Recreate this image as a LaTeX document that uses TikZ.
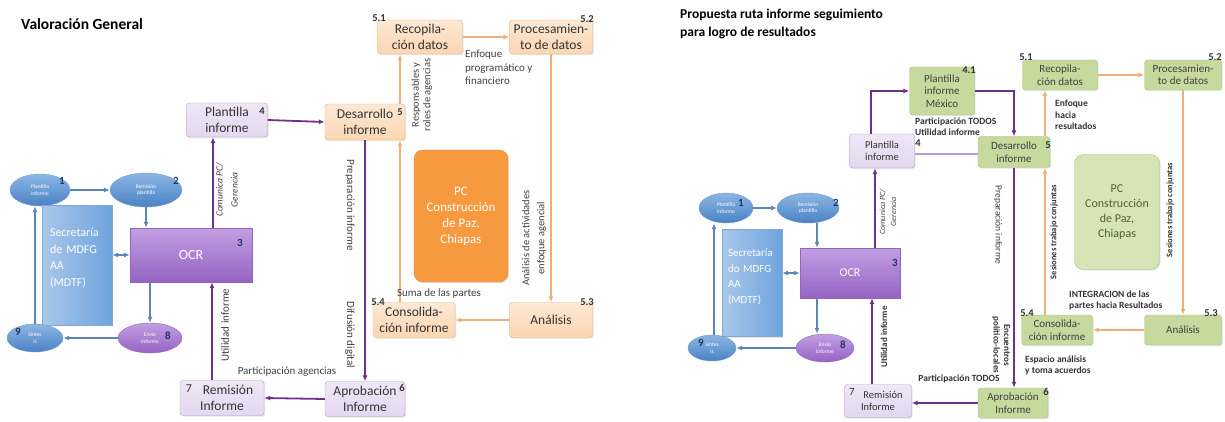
\documentclass[tikz,border=0pt]{standalone}
\usepackage{fontspec}
\setmainfont{Carlito}
\usepackage{xcolor}
\usetikzlibrary{arrows.meta, shapes.geometric, shadows}
\definecolor{linepurple}{HTML}{722F8A}
\definecolor{lineorange}{HTML}{F2AE78}
\definecolor{lineblue}{HTML}{5B86BA}
\definecolor{lilac}{HTML}{E4D7F0}
\definecolor{lilacedge}{HTML}{B49BD0}
\definecolor{peach}{HTML}{FBD6B2}
\definecolor{peachedge}{HTML}{F0B07C}
\definecolor{pcorange}{HTML}{F7993F}
\definecolor{leaf}{HTML}{C6DA9E}
\definecolor{leafedge}{HTML}{A6C277}
\definecolor{leafpale}{HTML}{D5E5B6}
\definecolor{leaftext}{HTML}{4F6228}
\definecolor{skyblue}{HTML}{6FA3DD}
\definecolor{deepblue}{HTML}{4A82C4}
\definecolor{ocrtop}{HTML}{C29FE2}
\definecolor{ocrbottom}{HTML}{9563C4}
\definecolor{navy}{HTML}{1F3864}

\begin{document}
\begin{tikzpicture}[x=1pt, y=-1pt, >={Latex[length=6pt,width=5pt]},
    every node/.style={font=\fontsize{13.5}{15.5}\selectfont, align=center, inner sep=1pt},
    soft/.style={drop shadow={opacity=0.2, shadow xshift=1.2pt, shadow yshift=-1.2pt}},
    lbox/.style={soft, draw=lilacedge, rounded corners=3pt, top color=lilac!60, bottom color=lilac, text=black!80},
    obox/.style={soft, draw=peachedge, rounded corners=3pt, top color=peach!55, bottom color=peach, text=black!80},
    gbox/.style={soft, draw=leafedge, rounded corners=3pt, fill=leaf, text=black!75, font=\fontsize{11}{12.5}\selectfont},
    oval/.style={ellipse, draw=deepblue!80, top color=skyblue!80, bottom color=deepblue, text=white, inner sep=0pt, font=\fontsize{5.5}{6.5}\selectfont},
    pval/.style={ellipse, draw=ocrbottom, top color=ocrtop, bottom color=ocrbottom, text=white, inner sep=0pt, font=\fontsize{5.5}{6.5}\selectfont},
    num/.style={font=\bfseries\fontsize{10.5}{11}\selectfont, text=black!80},
    bnum/.style={font=\bfseries\fontsize{11}{12}\selectfont, text=navy},
    lab/.style={font=\fontsize{11}{12.5}\selectfont, text=black!75},
    blab/.style={font=\bfseries\fontsize{9.5}{10.5}\selectfont, text=black!80, align=left},
    pline/.style={linepurple, line width=1.8pt, ->},
    oline/.style={lineorange, line width=1.8pt, ->},
    bline/.style={lineblue, line width=1.3pt, ->}]
    \useasboundingbox (0,0) rectangle (1225,422);
    %
    % Valoracion General
    \node[anchor=west, font=\bfseries\fontsize{15.5}{17}\selectfont] (title1) at (20,24) {Valoración General};
    \node[oval, minimum width=60pt, minimum height=32pt] (e1) at (40,190) {Plantilla\\informe};
    \node[oval, minimum width=72pt, minimum height=34pt] (e2) at (146,190) {Remisión\\plantilla};
    \node[soft, draw=deepblue!70, left color=skyblue!60, right color=skyblue, minimum width=70pt, minimum height=120pt] (sec) at (77,265) {};
    \node[text=white, align=left, text width=60pt, font=\fontsize{12}{16.5}\selectfont] (sectxt) at (80,258) {Secretaría\\de MDFG\\AA\\(MDTF)};
    \node[soft, draw=ocrbottom, top color=ocrtop, bottom color=ocrbottom, text=white, minimum width=122pt, minimum height=54pt, font=\fontsize{14}{15}\selectfont] (ocr) at (191,255) {OCR};
    \node[pval, minimum width=64pt, minimum height=30pt] (e8) at (150,338) {Envío\\informe};
    \node[oval, minimum width=56pt, minimum height=28pt] (e9) at (35,338) {Síntes\\is};
    \node[bnum] (n1) at (62,181) {1};
    \node[bnum] (n2) at (176,181) {2};
    \node[bnum] (n3) at (240,243) {3};
    \node[bnum] (n8) at (168,336) {8};
    \node[bnum] (n9) at (18,332) {9};
    %
    \node[lbox, minimum width=81pt, minimum height=34pt] (p4) at (227,120) {Plantilla\\informe};
    \node[obox, minimum width=80pt, minimum height=36pt] (d5) at (365,122) {Desarrollo\\informe};
    \node[obox, minimum width=85pt, minimum height=34pt] (r51) at (420,37) {Recopila-\\ción datos};
    \node[obox, minimum width=83pt, minimum height=34pt] (r52) at (551,37) {Procesamien-\\to de datos};
    \node[soft, draw=pcorange!90!black, fill=pcorange, rounded corners=9pt, text=white, minimum width=94pt, minimum height=132pt, font=\fontsize{13}{16}\selectfont] (pc) at (461,216) {PC\\Construcción\\de Paz,\\Chiapas};
    \node[obox, minimum width=83pt, minimum height=35pt] (a53) at (551,320) {Análisis};
    \node[obox, minimum width=82pt, minimum height=35pt] (c54) at (414,320) {Consolida-\\ción informe};
    \node[lbox, minimum width=80pt, minimum height=35pt] (a6) at (365,399) {Aprobación\\Informe};
    \node[lbox, minimum width=84pt, minimum height=35pt, text width=76pt] (r7) at (222,398) {\hspace*{12pt}Remisión\\Informe};
    \node[num] (n4) at (262,111) {4};
    \node[num] (n5) at (400,112) {5};
    \node[num] (n51) at (379,18) {5.1};
    \node[num] (n52) at (587,19) {5.2};
    \node[num] (n53) at (587,302) {5.3};
    \node[num] (n54) at (378,302) {5.4};
    \node[num] (n6) at (402,388) {6};
    \node[num, font=\fontsize{12}{12}\selectfont] (n7) at (189,389) {7};
    %
    \draw[bline] (e1) -- (e2);
    \draw[bline] (e2.south) -- (e2.south |- ocr.north);
    \draw[bline, <->] (sec.east |- ocr) -- (ocr.west);
    \draw[bline] (ocr.south -| e8.north) -- (e8.north);
    \draw[bline] (e8.west) -- (e9.east);
    \draw[bline] (e9.north) -- (e9.north |- e1.south);
    \draw[pline] ([xshift=-14pt]p4.south |- ocr.north) -- ([xshift=-14pt]p4.south);
    \draw[pline] (p4.east) -- (d5.west);
    \draw[oline] ([xshift=35pt]d5.north) -- ([xshift=35pt]d5.north |- r51.south);
    \draw[oline] (r51.east) -- (r52.west);
    \draw[oline] (r52.south) -- (a53.north);
    \draw[oline] (a53.west) -- (c54.east);
    \draw[oline] ([xshift=-14pt]c54.north) -- ([xshift=-14pt]c54.north |- d5.south);
    \draw[pline] (d5.south) -- (a6.north);
    \draw[pline] (a6.west) -- (r7.east);
    \draw[pline] ([xshift=-10pt]r7.north) -- ([xshift=-10pt]r7.north |- ocr.south);
    %
    \node[lab, rotate=90, font=\itshape\fontsize{9.5}{15}\selectfont] (l1) at (227,190) {Comunica PC/\\Gerencia};
    \node[lab, rotate=90, font=\fontsize{10.5}{11.5}\selectfont] (l2) at (422,95) {Responsables y\\roles de agencias};
    \node[lab, anchor=north west, align=left, font=\fontsize{11}{13.5}\selectfont] (l3) at (464,49) {Enfoque\\programático y\\financiero};
    \node[lab, rotate=90, font=\fontsize{10.5}{15}\selectfont] (l4) at (534,238) {Análisis de actividades\\enfoque agencial};
    \node[lab] (l5) at (439,294) {Suma de las partes};
    \node[lab, rotate=-90] (l6) at (350,205) {Preparación informe};
    \node[lab, rotate=-90] (l7) at (350,335) {Difusión digital};
    \node[lab, rotate=90] (l8) at (225,325) {Utilidad informe};
    \node[lab] (l9) at (287,372) {Participación agencias};
    %
    % Propuesta ruta
    \node[anchor=north west, align=left, font=\bfseries\fontsize{13.5}{18}\selectfont] (title2) at (679,8) {Propuesta ruta informe seguimiento\\para logro de resultados};
    \node[oval, minimum width=54pt, minimum height=30pt] (f1) at (726,208) {Plantilla\\informe};
    \node[oval, minimum width=62pt, minimum height=30pt] (f2) at (808,208) {Remisión\\plantilla};
    \node[soft, draw=deepblue!70, left color=skyblue!60, right color=skyblue, minimum width=60pt, minimum height=107pt] (fsec) at (752,283) {};
    \node[text=white, align=left, text width=54pt, font=\fontsize{11}{15.5}\selectfont] (fsectxt) at (755,277) {Secretaría\\do MDFG\\AA\\(MDTF)};
    \node[soft, draw=ocrbottom, top color=ocrtop, bottom color=ocrbottom, text=white, minimum width=100pt, minimum height=50pt, font=\fontsize{12}{13}\selectfont] (focr) at (850,273) {OCR};
    \node[pval, minimum width=58pt, minimum height=28pt] (f8) at (825,348) {Envío\\informe};
    \node[oval, minimum width=48pt, minimum height=26pt] (f9) at (712,348) {Síntes\\is};
    \node[bnum] (m1) at (741,203) {1};
    \node[bnum] (m2) at (836,203) {2};
    \node[bnum] (m3) at (895,263) {3};
    \node[bnum] (m8) at (843,345) {8};
    \node[bnum] (m9) at (701,343) {9};
    %
    \node[lbox, minimum width=65pt, minimum height=34pt, font=\fontsize{10.5}{12.5}\selectfont] (fp4) at (882,151) {Plantilla\\informe};
    \node[gbox, minimum width=65pt, minimum height=48pt] (fp41) at (942,91) {Plantilla\\informe\\México};
    \node[gbox, minimum width=72pt, minimum height=31pt] (fd5) at (1014,152) {Desarrollo\\informe};
    \node[gbox, minimum width=75pt, minimum height=30pt] (fr51) at (1060,75) {Recopila-\\ción datos};
    \node[gbox, minimum width=77pt, minimum height=30pt] (fr52) at (1183,75) {Procesamien-\\to de datos};
    \node[soft, draw=leafedge, fill=leafpale, rounded corners=9pt, text=leaftext, minimum width=85pt, minimum height=115pt, font=\fontsize{12}{15}\selectfont] (fpc) at (1117,212) {PC\\Construcción\\de Paz,\\Chiapas};
    \node[gbox, minimum width=77pt, minimum height=30pt] (fa53) at (1183,330) {Análisis};
    \node[gbox, minimum width=71pt, minimum height=30pt] (fc54) at (1057,330) {Consolida-\\ción informe};
    \node[gbox, minimum width=70pt, minimum height=30pt] (fa6) at (1013,403) {Aprobación\\Informe};
    \node[lbox, minimum width=67pt, minimum height=33pt, text width=60pt, font=\fontsize{10.5}{12.5}\selectfont] (fr7) at (878,401) {\hspace*{10pt}Remisión\\Informe};
    \node[num] (m4) at (918,143) {4};
    \node[num] (m41) at (969,70) {4.1};
    \node[num] (m5) at (1048,145) {5};
    \node[num] (m51) at (1026,57) {5.1};
    \node[num] (m52) at (1215,57) {5.2};
    \node[num] (m53) at (1211,313) {5.3};
    \node[num] (m54) at (1027,313) {5.4};
    \node[num] (m6) at (1046,392) {6};
    \node[num, font=\fontsize{11}{11}\selectfont] (m7) at (852,392) {7};
    %
    \draw[bline] (f1) -- (f2);
    \draw[bline] ([xshift=9pt]f2.south) -- ([xshift=9pt]f2.south |- focr.north);
    \draw[bline, <->] (fsec.east |- focr) -- (focr.west);
    \draw[bline] ([xshift=-8pt]f8.north |- focr.south) -- ([xshift=-8pt]f8.north);
    \draw[bline] (f8.west) -- (f9.east);
    \draw[bline] ([xshift=2pt]f9.north) -- ([xshift=2pt]f9.north |- f1.south);
    \draw[pline] ([xshift=-7pt]fp4.south |- focr.north) -- ([xshift=-7pt]fp4.south);
    \draw[pline] ([xshift=-11pt]fp4.north) |- (fp41.west);
    \draw[pline] (fp41.east) -| (fd5.north);
    \draw[lilacedge, line width=1.2pt] ([yshift=-3pt]fp4.east) -- ([yshift=-3pt]fp4.east -| fd5.west);
    \draw[oline] ([xshift=31pt]fd5.north) -- ([xshift=31pt]fd5.north |- fr51.south);
    \draw[oline] (fr51.east) -- (fr52.west);
    \draw[oline] (fr52.south) -- (fa53.north);
    \draw[oline] (fa53.west) -- (fc54.east);
    \draw[oline] ([xshift=-12pt]fc54.north) -- ([xshift=-12pt]fc54.north |- fd5.south);
    \draw[pline] (fd5.south) -- (fd5.south |- fa6.north);
    \draw[pline] (fa6.west) -- (fa6.west -| fr7.east);
    \draw[pline] ([xshift=-6pt]fr7.north) -- ([xshift=-6pt]fr7.north |- focr.south);
    %
    \node[lab, rotate=90, font=\itshape\fontsize{8}{11}\selectfont] (k1) at (888,212) {Comunica PC/\\Gerencia};
    \node[blab, anchor=north west] (k2) at (914,117) {Participación TODOS\\Utilidad informe};
    \node[blab, anchor=north west, font=\bfseries\fontsize{9.5}{11.5}\selectfont] (k3) at (1054,99) {Enfoque\\hacia\\resultados};
    \node[blab, rotate=90, font=\bfseries\fontsize{8.5}{9.5}\selectfont] (k4) at (1054,232) {Sesiones trabajo conjuntas};
    \node[blab, rotate=90, font=\bfseries\fontsize{8.5}{9.5}\selectfont] (k5) at (1170,210) {Sesiones trabajo conjuntas};
    \node[blab, anchor=north west, font=\bfseries\fontsize{9.5}{11}\selectfont] (k6) at (1068,290) {INTEGRACION de las\\partes hacia Resultados};
    \node[lab, rotate=-90, font=\fontsize{9.5}{10.5}\selectfont] (k7) at (998,225) {Preparación informe};
    \node[blab, rotate=-90, align=center, font=\bfseries\fontsize{9}{10.5}\selectfont] (k8) at (1001,345) {Encuentros\\político-locales};
    \node[blab, anchor=north west, font=\bfseries\fontsize{9.5}{11}\selectfont] (k9) at (1024,355) {Espacio análisis\\y toma acuerdos};
    \node[blab] (k10) at (959,379) {Participación TODOS};
    \node[blab, rotate=90, font=\bfseries\fontsize{9}{10}\selectfont] (k11) at (884,337) {Utilidad informe};
\end{tikzpicture}
\end{document}
